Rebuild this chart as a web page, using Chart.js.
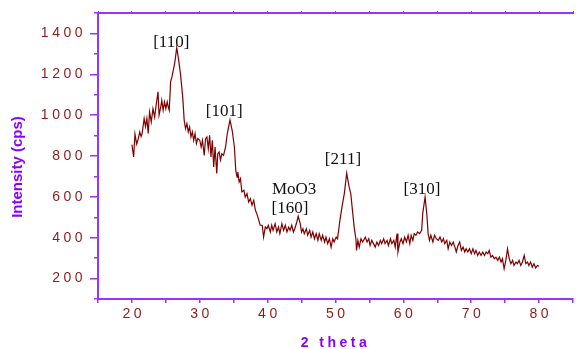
<!DOCTYPE html>
<html>
<head>
<meta charset="utf-8">
<script src="https://cdn.jsdelivr.net/npm/chart.js@4.4.1/dist/chart.umd.min.js"></script>
<style>
  body { margin: 0; background: #fff; }
  canvas { display: block; }
</style>
</head>
<body>
<canvas id="xrd" width="576" height="349"></canvas>
<script>
// 2 theta (deg) vs intensity (cps)
const twoTheta = [
  20.0, 20.25, 20.45, 20.7, 20.9, 21.15, 21.35, 21.5, 21.8, 22.0, 22.2, 22.4, 22.6, 22.85, 23.1, 23.35, 23.6, 23.85, 24.0, 24.25,
  24.4, 24.6, 24.8, 25.0, 25.2, 25.35, 25.5, 25.7, 25.9, 26.3, 26.6, 26.85, 27.15, 27.5, 27.7, 27.9, 28.1, 28.3, 28.5, 28.7,
  28.9, 29.1, 29.3, 29.5, 29.7, 30.0, 30.2, 30.4, 30.65, 30.85, 31.05, 31.25, 31.45, 31.65, 31.85, 32.05, 32.25, 32.5, 32.65, 32.85,
  33.05, 33.25, 33.5, 33.8, 34.05, 34.45, 34.77, 35.1, 35.3, 35.5, 35.6, 35.8, 36.0, 36.2, 36.5, 36.7, 36.95, 37.2, 37.45, 37.7,
  37.95, 38.2, 38.4, 38.7, 38.9, 39.2, 39.4, 39.65, 39.9, 40.1, 40.4, 40.6, 40.8, 41.1, 41.35, 41.6, 41.8, 42.1, 42.35, 42.6,
  42.85, 43.1, 43.3, 43.55, 43.8, 44.0, 44.3, 44.5, 44.8, 45.0, 45.2, 45.4, 45.7, 45.9, 46.2, 46.4, 46.65, 46.9, 47.15, 47.4,
  47.6, 47.9, 48.1, 48.4, 48.6, 48.85, 49.1, 49.35, 49.6, 49.8, 50.1, 50.3, 50.65, 50.95, 51.3, 51.65, 52.0, 52.25, 52.5, 52.75,
  53.0, 53.1, 53.3, 53.5, 53.75, 54.0, 54.4, 54.65, 54.9, 55.1, 55.35, 55.6, 55.85, 56.1, 56.35, 56.6, 56.8, 57.1, 57.3, 57.6,
  57.8, 58.1, 58.3, 58.6, 58.8, 59.07, 59.2, 59.5, 59.7, 59.95, 60.2, 60.45, 60.7, 60.95, 61.15, 61.4, 61.6, 61.85, 62.1, 62.4,
  62.7, 62.85, 63.2, 63.45, 63.65, 63.85, 64.05, 64.35, 64.6, 64.85, 65.15, 65.4, 65.65, 65.9, 66.1, 66.4, 66.6, 66.85, 67.1, 67.35,
  67.6, 67.8, 68.05, 68.3, 68.55, 68.8, 69.05, 69.25, 69.5, 69.75, 70.0, 70.25, 70.5, 70.7, 70.95, 71.2, 71.45, 71.7, 71.95, 72.2,
  72.45, 72.65, 72.9, 73.15, 73.4, 73.65, 73.9, 74.15, 74.4, 74.6, 74.85, 75.1, 75.35, 75.6, 75.85, 76.1, 76.3, 76.6, 76.8, 77.05,
  77.3, 77.55, 77.8, 78.05, 78.3, 78.5, 78.75, 79.0, 79.25, 79.5, 79.75, 80.0
];
const intensity = [
  856, 795, 907, 858, 880, 918, 895, 910, 984, 944, 984, 910, 1016, 967, 1032, 991, 1057, 1114, 1000, 1040,
  1073, 1024, 1065, 1032, 1065, 1040, 1024, 1163, 1188, 1253, 1330, 1278, 1204, 1082, 975, 934, 959, 918, 942, 893,
  918, 877, 910, 861, 885, 877, 844, 877, 803, 885, 893, 836, 901, 795, 877, 746, 844, 714, 811, 820,
  780, 811, 803, 844, 910, 976, 926, 844, 730, 697, 722, 673, 689, 624, 632, 599, 616, 575, 591, 559,
  583, 534, 518, 485, 461, 461, 403, 452, 444, 461, 428, 461, 436, 469, 428, 452, 420, 469, 436, 461,
  428, 452, 436, 461, 428, 444, 477, 505, 469, 428, 444, 420, 444, 412, 436, 403, 428, 395, 420, 387,
  420, 387, 412, 379, 403, 371, 395, 354, 395, 379, 403, 395, 485, 550, 616, 716, 650, 616, 534, 452,
  395, 338, 387, 354, 395, 379, 403, 379, 395, 362, 387, 371, 354, 379, 362, 387, 371, 395, 371, 387,
  362, 395, 371, 387, 354, 420, 330, 379, 395, 371, 403, 379, 412, 371, 412, 387, 420, 412, 428, 420,
  436, 518, 600, 518, 420, 387, 412, 379, 412, 395, 387, 403, 379, 395, 371, 387, 346, 379, 362, 379,
  354, 330, 362, 379, 338, 354, 330, 346, 330, 346, 322, 346, 322, 338, 313, 330, 313, 330, 313, 330,
  322, 338, 305, 313, 297, 305, 289, 305, 281, 297, 248, 289, 346, 297, 273, 289, 264, 281, 273, 289,
  264, 281, 313, 273, 281, 264, 281, 256, 273, 252, 264, 260
];

// peak labels
const peakLabels = ['[110]', '[101]', 'MoO3', '[160]', '[211]', '[310]'];
const peakX = [25.8, 33.6, 43.9, 43.3, 51.1, 62.75];
const peakY = [1353, 1019, 637, 545, 782, 635];

// axis ticks
const xTickValues = [15, 20, 25, 30, 35, 40, 45, 50, 55, 60, 65, 70, 75, 80, 85];
const xTickLabels = ['', '20', '', '30', '', '40', '', '50', '', '60', '', '70', '', '80', ''];
const yMajorTicks = [200, 400, 600, 800, 1000, 1200, 1400];
const yMinorTicks = [100, 300, 500, 700, 900, 1100, 1300, 1500];

const purple = '#9933ff';
const titlePurple = '#8800ff';
const tickRed = '#8b1c1c';
const lineRed = '#7f0000';

function fixTicks(values) {
    return function(scale) {
        scale.ticks = values.map(v => ({ value: v }));
    };
}

// spaced digits on the axes, plain y title sitting a bit lower
const spacedText = {
    id: 'spacedText',
    afterUpdate(chart) {
        const s = chart.scales.y;
        if (!s._plainTitle) {
            const orig = s.drawTitle;
            s.drawTitle = function() {
                const ctx = this.ctx;
                ctx.save();
                ctx.letterSpacing = '0px';
                ctx.translate(0, 11);
                orig.call(this);
                ctx.restore();
            };
            s._plainTitle = true;
        }
    },
    beforeDraw(chart) {
        chart.ctx.letterSpacing = '3.5px';
    },
    afterDraw(chart) {
        chart.ctx.letterSpacing = '0px';
    }
};

const peakText = {
    id: 'peakText',
    afterDatasetsDraw(chart) {
        const ctx = chart.ctx;
        const xs = chart.scales.x, ys = chart.scales.y;
        ctx.save();
        ctx.letterSpacing = '0px';
        ctx.font = '17px "Liberation Serif", "Times New Roman", serif';
        ctx.fillStyle = '#111';
        ctx.textAlign = 'center';
        ctx.textBaseline = 'middle';
        peakLabels.forEach((t, i) => {
            ctx.fillText(t, xs.getPixelForValue(peakX[i]), ys.getPixelForValue(peakY[i]));
        });
        ctx.restore();
    }
};

const tickFont = { family: '"Liberation Sans", Arial, sans-serif', size: 14 };

new Chart(document.getElementById('xrd').getContext('2d'), {
    type: 'line',
    data: {
        datasets: [{
            data: twoTheta.map((t, i) => ({ x: t, y: intensity[i] })),
            borderColor: lineRed,
            borderWidth: 1.2,
            pointRadius: 0,
            fill: false,
            tension: 0
        }]
    },
    options: {
        responsive: false,
        animation: false,
        layout: { padding: { left: 0, right: 0, top: 13, bottom: 0 } },
        plugins: { legend: { display: false }, tooltip: { enabled: false } },
        scales: {
            x: {
                type: 'linear',
                position: 'bottom',
                min: 15,
                max: 85,
                afterBuildTicks: fixTicks(xTickValues),
                afterFit: s => { s.height = 50; },
                grid: { drawOnChartArea: false, color: purple, lineWidth: 1.5, tickLength: 4 },
                border: { color: purple, width: 2 },
                ticks: {
                    color: tickRed,
                    font: tickFont,
                    padding: 3,
                    labelOffset: 1.75,
                    maxRotation: 0,
                    autoSkip: false,
                    callback: (v, i) => xTickLabels[i]
                },
                title: {
                    display: true,
                    text: '2 theta',
                    color: titlePurple,
                    font: { family: '"Liberation Sans", Arial, sans-serif', size: 14, weight: 'bold' },
                    padding: { top: 0, bottom: -3 }
                }
            },
            xTop: {
                type: 'linear',
                position: 'top',
                min: 15,
                max: 85,
                afterBuildTicks: fixTicks(xTickValues),
                afterFit: s => { s.height = 0; },
                grid: { drawOnChartArea: false, color: purple, lineWidth: 1, tickLength: 2 },
                border: { color: purple, width: 2 },
                ticks: { display: false }
            },
            y: {
                type: 'linear',
                position: 'left',
                weight: 1,
                min: 100,
                max: 1500,
                afterBuildTicks: fixTicks(yMajorTicks),
                afterFit: s => { s.width = 98; },
                grid: { drawOnChartArea: false, color: purple, lineWidth: 1.5, tickLength: 8 },
                border: { color: purple, width: 2 },
                ticks: { color: tickRed, font: tickFont, padding: 4, callback: v => String(v) },
                title: {
                    display: true,
                    text: 'Intensity (cps)',
                    color: titlePurple,
                    font: { family: '"Liberation Sans", Arial, sans-serif', size: 15, weight: 'bold' },
                    padding: { top: 9, bottom: 0 }
                }
            },
            yMinor: {
                type: 'linear',
                position: 'left',
                weight: 0,
                min: 100,
                max: 1500,
                afterBuildTicks: fixTicks(yMinorTicks),
                afterFit: s => { s.width = 0; },
                grid: { drawOnChartArea: false, color: purple, lineWidth: 1.5, tickLength: 4 },
                border: { color: purple, width: 2 },
                ticks: { display: false }
            }
        }
    },
    plugins: [spacedText, peakText]
});
</script>
</body>
</html>
